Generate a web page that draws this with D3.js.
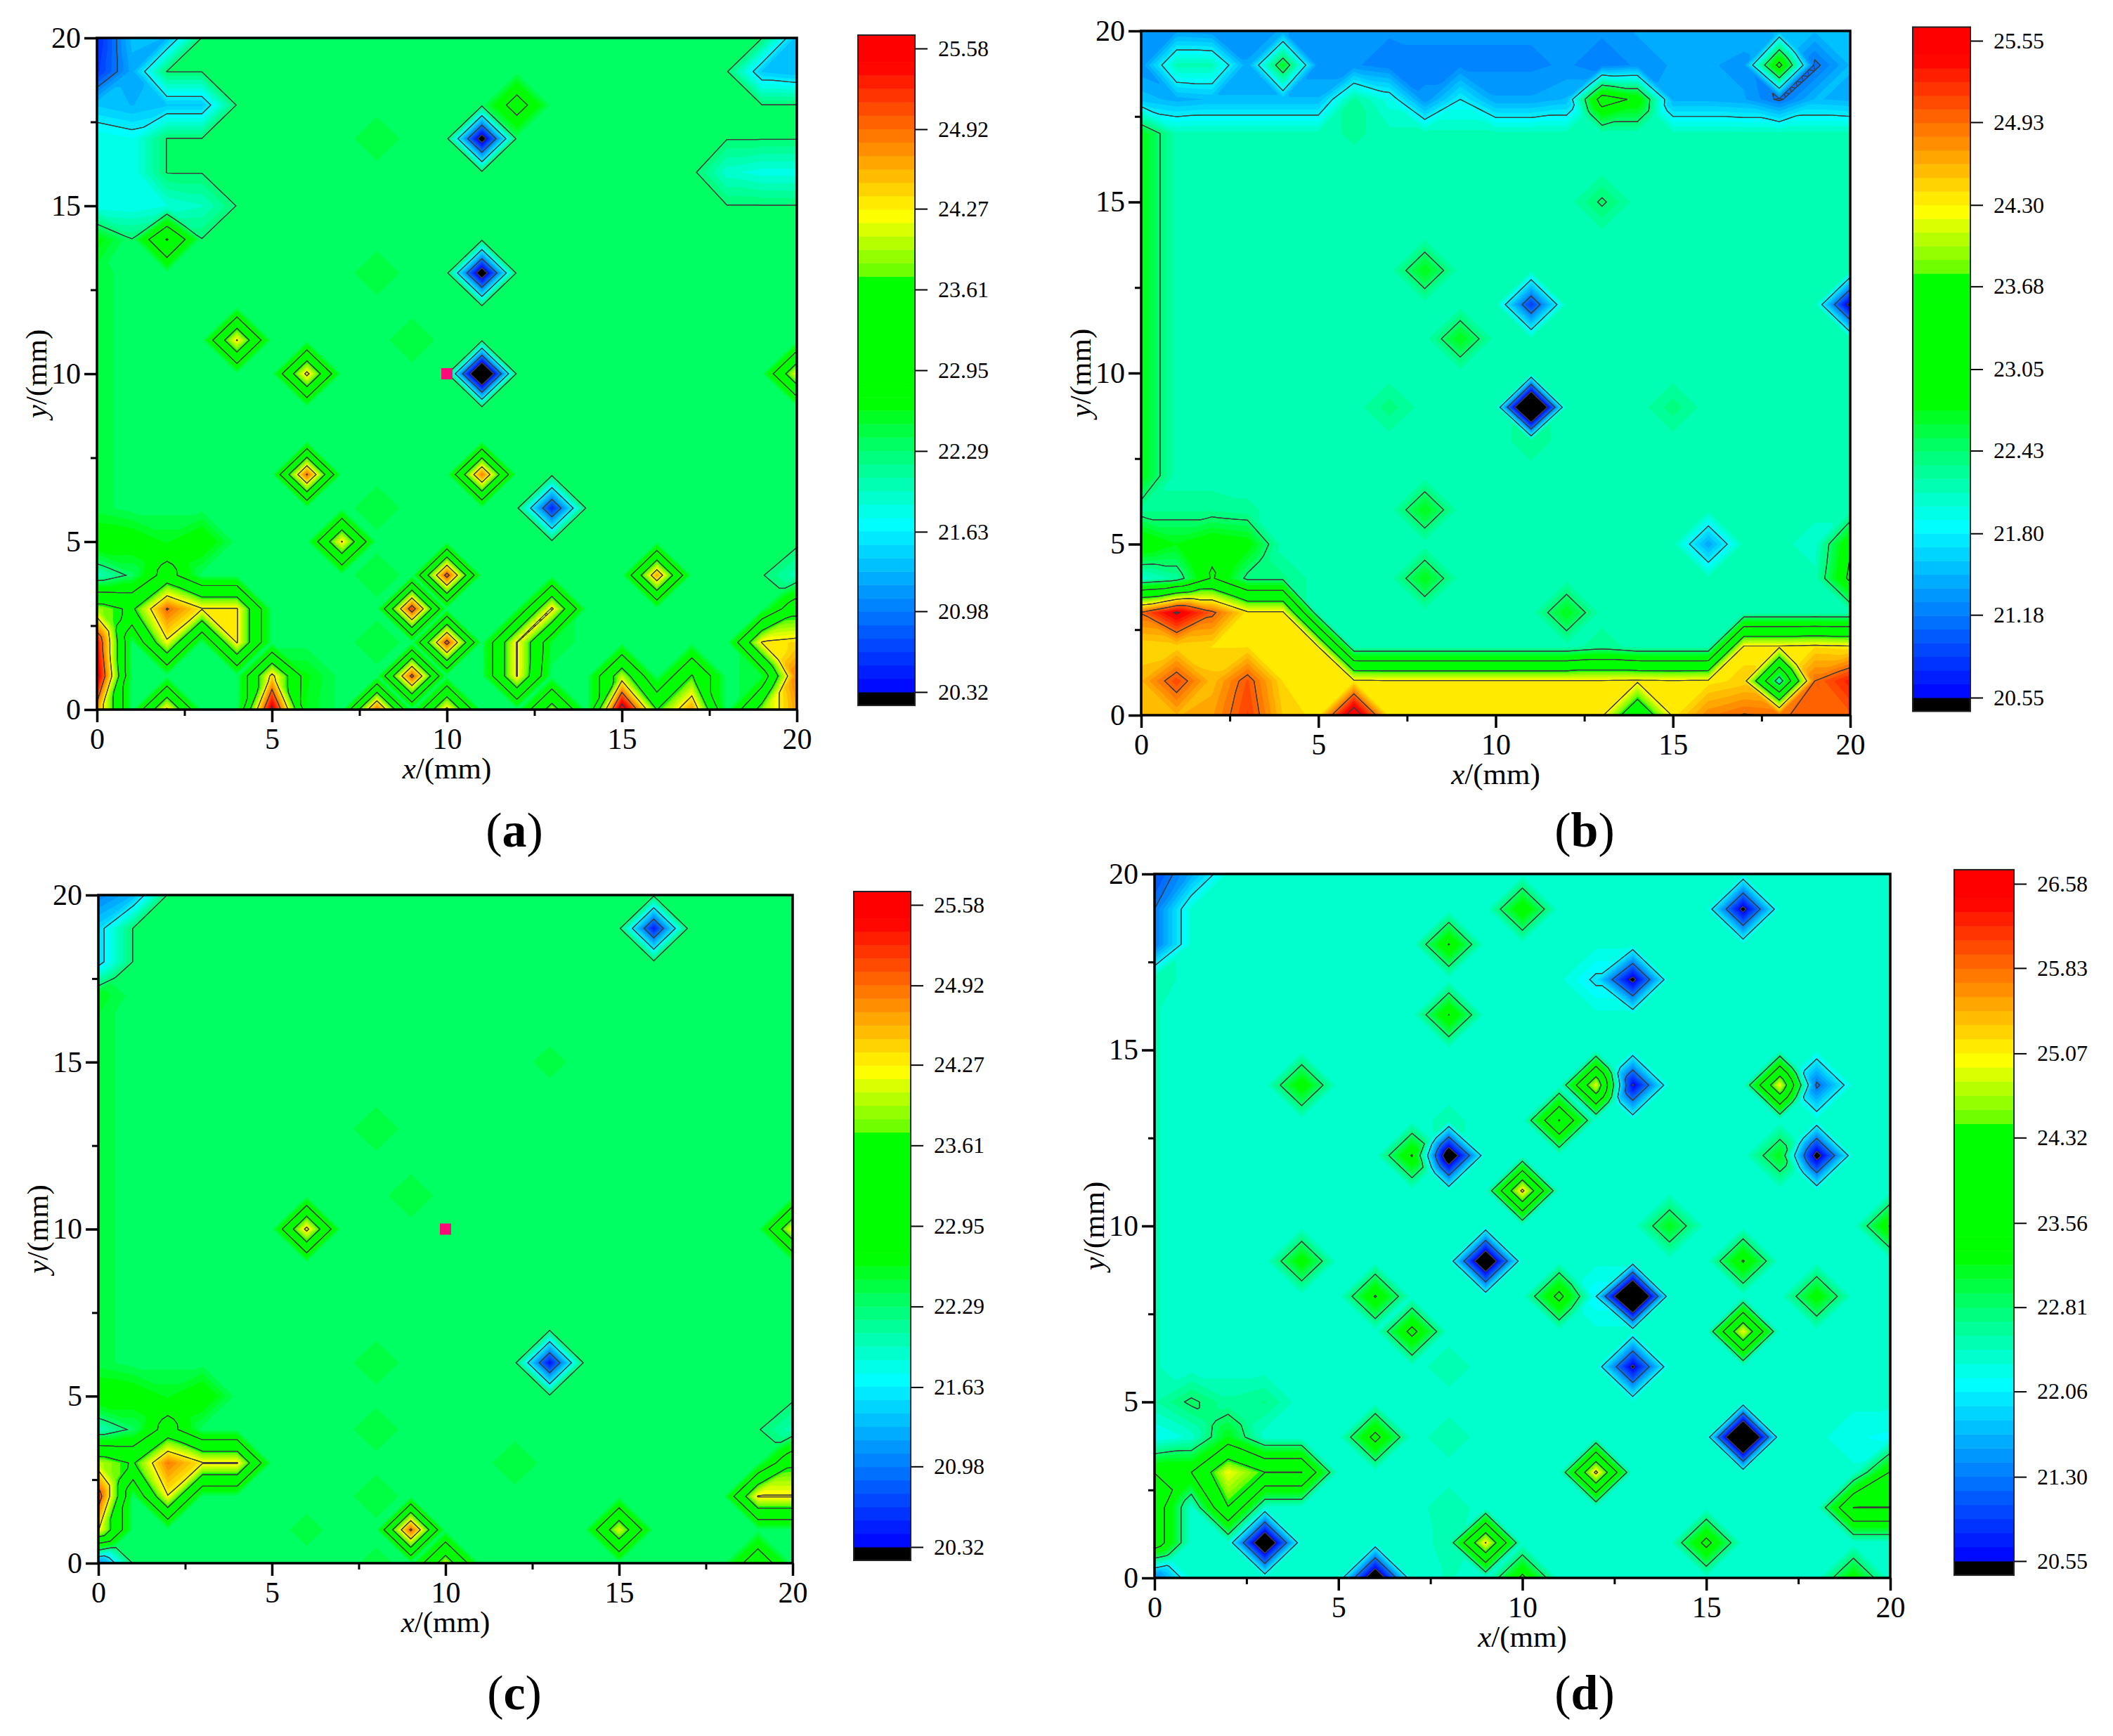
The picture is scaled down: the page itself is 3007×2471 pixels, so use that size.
<!DOCTYPE html>
<html>
<head>
<meta charset="utf-8">
<script src="https://cdnjs.cloudflare.com/ajax/libs/d3/7.8.5/d3.min.js"></script>
<style>
  html, body { margin: 0; padding: 0; background: #fff; }
  text { font-family: "Liberation Serif", serif; fill: #000; }
</style>
</head>
<body>
<svg id="visualization" width="3007" height="2471"></svg>
<script>
// contour labels on the colour bars, lowest first
const levelsA = ["20.32", "20.98", "21.63", "22.29", "22.95", "23.61", "24.27", "24.92", "25.58"];
const levelsB = ["20.55", "21.18", "21.80", "22.43", "23.05", "23.68", "24.30", "24.93", "25.55"];
const levelsC = ["20.32", "20.98", "21.63", "22.29", "22.95", "23.61", "24.27", "24.92", "25.58"];
const levelsD = ["20.55", "21.30", "22.06", "22.81", "23.56", "24.32", "25.07", "25.83", "26.58"];

// plate value away from the hot / cold spots
const plateA = 22.35;
const plateB = 22.15;
const plateC = 22.35;
const plateD = 22.35;

// measured spots as [x mm, y mm, value]
const spotsA = [
    [0, 20, 20.5], [1, 20, 21.35], [2, 20, 21.3], [3, 20, 22.3], [19, 20, 22.3], [20, 20, 21.35],
    [0, 19, 20.6], [1, 19, 21.25], [2, 19, 22.3], [3, 19, 22.3], [18, 19, 22.31], [19, 19, 21.4], [20, 19, 21.3],
    [0, 18, 21.4], [1, 18, 21.3], [2, 18, 21.4], [3, 18, 21.4], [4, 18, 22.31], [12, 18, 23.21], [19, 18, 22.3], [20, 18, 22.3],
    [0, 17, 21.85], [1, 17, 21.75], [2, 17, 22.3], [3, 17, 22.3], [8, 17, 22.5], [11, 17, 20.05], [18, 17, 22.3], [19, 17, 22.3], [20, 17, 22.3],
    [0, 16, 21.85], [1, 16, 21.75], [2, 16, 22.3], [3, 16, 22.3], [18, 16, 21.89], [19, 16, 21.8], [20, 16, 21.8],
    [0, 15, 21.8], [1, 15, 21.75], [2, 15, 21.85], [3, 15, 21.95], [4, 15, 22.3], [18, 15, 22.3], [19, 15, 22.3], [20, 15, 22.3],
    [0, 14, 22.7], [1, 14, 22.3], [2, 14, 23.65], [3, 14, 22.3],
    [0, 13, 22.45], [8, 13, 22.5], [11, 13, 19.96],
    [0, 12, 22.45],
    [0, 11, 22.45], [4, 11, 24.3], [9, 11, 22.5],
    [0, 10, 22.45], [6, 10, 24.4], [11, 10, 19.3], [20, 10, 24.2],
    [0, 9, 22.45],
    [0, 8, 22.45],
    [0, 7, 22.45], [6, 7, 24.95], [11, 7, 24.85],
    [0, 6, 22.45], [8, 6, 22.5], [13, 6, 20.5],
    [0, 5, 22.85], [1, 5, 22.8], [2, 5, 22.6], [3, 5, 22.85], [7, 5, 24.3],
    [0, 4, 22.0], [2, 4, 23.2], [8, 4, 22.5], [10, 4, 25.1], [16, 4, 24.65], [19, 4, 22.31], [20, 4, 22.0],
    [0, 3, 23.9], [1, 3, 23.5], [2, 3, 24.95], [3, 3, 24.3], [4, 3, 24.3], [9, 3, 25.2], [12, 3, 22.4], [13, 3, 24.35], [20, 3, 23.4],
    [0, 2, 25.4], [2, 2, 24.2], [4, 2, 24.3], [8, 2, 22.5], [10, 2, 25.1], [12, 2, 24.3], [13, 2, 22.5], [19, 2, 24.3], [20, 2, 24.4],
    [0, 1, 25.7], [5, 1, 24.4], [6, 1, 22.65], [9, 1, 25.05], [12, 1, 24.3], [15, 1, 24.0], [17, 1, 23.65], [19, 1, 22.5], [20, 1, 24.9],
    [0, 0, 24.7], [2, 0, 24.35], [5, 0, 25.7], [6, 0, 22.6], [8, 0, 24.95], [10, 0, 24.4], [13, 0, 23.9], [15, 0, 25.9], [16, 0, 23.6], [17, 0, 24.7], [19, 0, 23.85], [20, 0, 24.7]
];

const spotsB = [
    [0, 20, 21.3], [1, 20, 21.35], [2, 20, 21.3], [3, 20, 21.3], [4, 20, 21.4], [5, 20, 21.3], [6, 20, 21.3], [7, 20, 21.3], [8, 20, 21.3], [9, 20, 21.3], [10, 20, 21.3], [11, 20, 21.3], [12, 20, 21.3], [13, 20, 21.3], [14, 20, 21.4], [15, 20, 21.45], [16, 20, 21.45], [17, 20, 21.45], [18, 20, 21.5], [19, 20, 21.5], [20, 20, 21.5],
    [0, 19, 21.3], [1, 19, 22.16], [2, 19, 22.16], [3, 19, 21.4], [4, 19, 22.7], [5, 19, 21.3], [6, 19, 21.3], [7, 19, 21.2], [8, 19, 21.25], [9, 19, 21.25], [10, 19, 21.25], [11, 19, 21.25], [12, 19, 21.3], [13, 19, 21.2], [14, 19, 21.3], [15, 19, 21.4], [16, 19, 21.4], [17, 19, 21.34], [18, 19, 23.2], [19, 19, 21.12], [20, 19, 21.5],
    [0, 18, 21.55], [1, 18, 21.44], [2, 18, 21.5], [3, 18, 21.5], [4, 18, 21.5], [5, 18, 21.5], [6, 18, 22.25], [7, 18, 21.95], [8, 18, 21.3], [9, 18, 21.8], [10, 18, 21.4], [11, 18, 21.4], [12, 18, 21.5], [13, 18, 23.3], [14, 18, 22.95], [15, 18, 21.45], [16, 18, 21.45], [17, 18, 21.4], [18, 18, 21.14], [19, 18, 21.5], [20, 18, 21.45],
    [0, 17, 22.75], [6, 17, 22.25],
    [0, 16, 22.75],
    [0, 15, 22.75], [13, 15, 22.47],
    [0, 14, 22.75],
    [0, 13, 22.75], [8, 13, 22.75],
    [0, 12, 22.75], [11, 12, 20.85], [20, 12, 20.4],
    [0, 11, 22.75], [9, 11, 22.75],
    [0, 10, 22.75],
    [0, 9, 22.75], [7, 9, 22.38], [11, 9, 19.2], [15, 9, 22.38],
    [0, 8, 22.75], [11, 8, 22.3],
    [0, 7, 22.75],
    [0, 6, 22.3], [1, 6, 22.3], [2, 6, 22.3], [3, 6, 22.25], [8, 6, 22.75],
    [0, 5, 23.0], [1, 5, 22.75], [2, 5, 22.95], [3, 5, 22.85], [16, 5, 21.4], [19, 5, 22.05], [20, 5, 23.0],
    [0, 4, 22.05], [1, 4, 22.25], [2, 4, 23.1], [3, 4, 22.35], [4, 4, 22.35], [8, 4, 22.75], [20, 4, 23.15],
    [0, 3, 24.95], [1, 3, 25.6], [2, 3, 25.0], [3, 3, 24.35], [4, 3, 24.35], [12, 3, 22.75],
    [0, 2, 24.4], [1, 2, 24.45], [2, 2, 24.4], [3, 2, 24.4], [4, 2, 24.35], [5, 2, 24.3], [13, 2, 22.3], [17, 2, 24.35], [18, 2, 24.35], [19, 2, 24.4], [20, 2, 24.35],
    [0, 1, 24.6], [1, 1, 25.1], [2, 1, 24.55], [3, 1, 25.05], [4, 1, 24.4], [5, 1, 24.35], [6, 1, 24.35], [7, 1, 24.33], [8, 1, 24.33], [9, 1, 24.33], [10, 1, 24.33], [11, 1, 24.33], [12, 1, 24.33], [13, 1, 24.33], [14, 1, 24.35], [15, 1, 24.33], [16, 1, 24.35], [17, 1, 24.45], [18, 1, 22.15], [19, 1, 24.93], [20, 1, 25.3],
    [0, 0, 24.5], [1, 0, 24.6], [2, 0, 24.7], [3, 0, 25.15], [4, 0, 24.5], [5, 0, 24.35], [6, 0, 25.9], [7, 0, 24.35], [8, 0, 24.35], [9, 0, 24.35], [10, 0, 24.35], [11, 0, 24.35], [12, 0, 24.35], [13, 0, 24.35], [14, 0, 23.1], [15, 0, 24.35], [16, 0, 24.8], [17, 0, 24.95], [18, 0, 24.9], [19, 0, 25.0], [20, 0, 25.0]
];

const spotsC = [
    [0, 20, 21.0], [1, 20, 21.3], [2, 20, 22.31],
    [0, 19, 21.5], [1, 19, 22.3], [16, 19, 20.45],
    [0, 18, 21.5], [1, 18, 22.3],
    [0, 17, 22.6],
    [0, 16, 22.45],
    [0, 15, 22.45], [13, 15, 22.45],
    [0, 14, 22.45],
    [0, 13, 22.45], [8, 13, 22.5],
    [0, 12, 22.45],
    [0, 11, 22.45], [9, 11, 22.5],
    [0, 10, 22.45], [6, 10, 24.4], [20, 10, 24.2],
    [0, 9, 22.45],
    [0, 8, 22.45],
    [0, 7, 22.45],
    [0, 6, 22.45], [8, 6, 22.5], [13, 6, 20.4],
    [0, 5, 22.85], [1, 5, 22.8], [2, 5, 22.6], [3, 5, 22.85],
    [0, 4, 22.0], [2, 4, 23.2], [8, 4, 22.5], [19, 4, 22.31], [20, 4, 22.0],
    [0, 3, 24.0], [1, 3, 23.55], [2, 3, 24.85], [3, 3, 24.3], [4, 3, 24.3], [12, 3, 22.5], [20, 3, 23.5],
    [0, 2, 25.2], [2, 2, 24.25], [8, 2, 22.5], [19, 2, 24.3], [20, 2, 24.3],
    [0, 1, 24.3], [6, 1, 22.45], [9, 1, 25.0], [15, 1, 24.1],
    [0, 0, 21.0], [1, 0, 22.31], [8, 0, 22.45], [10, 0, 24.0], [19, 0, 23.4]
];

const spotsD = [
    [0, 20, 21.0], [1, 20, 21.6],
    [0, 19, 21.3], [10, 19, 23.5], [16, 19, 20.4],
    [0, 18, 21.3], [8, 18, 23.58],
    [0, 17, 22.55], [12, 17, 22.0], [13, 17, 20.4],
    [0, 16, 22.45], [8, 16, 23.57],
    [0, 15, 22.45],
    [0, 14, 22.45], [4, 14, 23.45], [12, 14, 24.95], [13, 14, 20.5], [17, 14, 25.0], [18, 14, 21.2],
    [0, 13, 22.45], [8, 13, 22.5], [11, 13, 24.35],
    [0, 12, 22.45], [7, 12, 23.6], [8, 12, 19.95], [17, 12, 23.2], [18, 12, 20.3],
    [0, 11, 22.45], [10, 11, 25.2],
    [0, 10, 22.45], [14, 10, 23.2], [20, 10, 23.6],
    [0, 9, 22.45], [4, 9, 23.4], [9, 9, 19.8], [16, 9, 23.6],
    [0, 8, 22.45], [6, 8, 23.6], [11, 8, 23.75], [12, 8, 22.07], [13, 8, 19.0], [18, 8, 23.4],
    [0, 7, 22.45], [7, 7, 23.75], [16, 7, 25.0],
    [0, 6, 22.45], [8, 6, 22.55], [13, 6, 20.45],
    [0, 5, 22.55], [1, 5, 22.87], [2, 5, 22.6], [3, 5, 22.7],
    [0, 4, 22.15], [2, 4, 23.2], [6, 4, 23.75], [8, 4, 22.55], [16, 4, 19.0], [19, 4, 22.2], [20, 4, 22.15],
    [0, 3, 23.55], [1, 3, 23.56], [2, 3, 25.0], [3, 3, 24.33], [4, 3, 24.33], [12, 3, 25.2], [20, 3, 23.6],
    [0, 2, 24.0], [2, 2, 24.3], [8, 2, 22.55], [19, 2, 24.33], [20, 2, 24.33],
    [0, 1, 24.0], [3, 1, 19.8], [8, 1, 22.5], [9, 1, 25.1], [15, 1, 23.75],
    [0, 0, 21.3], [6, 0, 19.9], [8, 0, 22.45], [10, 0, 23.7], [19, 0, 23.4]
];

// little pink marker in (a) and (c)
const markerA = [[10, 10]];
const markerC = [[10, 10]];

const axisMajor = [0, 5, 10, 15, 20];
const axisMinor = [2.5, 7.5, 12.5, 17.5];

// frame positions are in page pixels
const panels = [
    { letter: "a", levels: levelsA, plate: plateA, spots: spotsA, marker: markerA,
      left: 138, right: 1134, top: 54, bottom: 1010, barLeft: 1221, barRight: 1302, barTop: 69, barBottom: 985, capX: 732, capY: 1205 },
    { letter: "b", levels: levelsB, plate: plateB, spots: spotsB, marker: [],
      left: 1624, right: 2633, top: 44, bottom: 1018, barLeft: 2722, barRight: 2804, barTop: 58, barBottom: 993, capX: 2255, capY: 1205 },
    { letter: "c", levels: levelsC, plate: plateC, spots: spotsC, marker: markerC,
      left: 140, right: 1128, top: 1274, bottom: 2225, barLeft: 1215, barRight: 1296, barTop: 1288, barBottom: 2202, capX: 732, capY: 2433 },
    { letter: "d", levels: levelsD, plate: plateD, spots: spotsD, marker: [],
      left: 1643, right: 2690, top: 1244, bottom: 2246, barLeft: 2781, barRight: 2866, barTop: 1258, barBottom: 2222, capX: 2255, capY: 2433 }
];

// rainbow of the colour bars, position 0 = lowest label, 1 = highest label
const rampStops = [0, 0.262, 0.385, 0.45, 0.648, 0.649, 0.741, 0.975, 1];
const rampColors = ["#0000ff", "#00ffff", "#00ff64", "#00ff00", "#00ff00", "#64ff00", "#ffff00", "#ff0000", "#ff0000"];
const ramp = d3.scaleLinear().domain(rampStops).range(rampColors).interpolate(d3.interpolateRgb);

const bandsPerLabel = 6;
const cells = 20;
// the surface is piecewise flat on triangles, sampled finer for d3.contours (keep this even)
const refine = 6;
const sampleSize = cells * refine + 1;

const svg = d3.select("#visualization");
svg.append("rect").attr("width", 3007).attr("height", 2471).attr("fill", "#fff");

// value at the middle of a cell: closely matching diagonal ends win (ridges, valleys), else the median
const cellCentre = (a, b, c, d) => {
    const ac = Math.abs(a - c);
    const bd = Math.abs(b - d);
    if (Math.min(ac, bd) < 0.2) return ac <= bd ? (a + c) / 2 : (b + d) / 2;
    const s = [a, b, c, d].sort(d3.ascending);
    return (s[1] + s[2]) / 2;
};

// each cell is four triangles meeting at its centre
const surfaceAt = (grid, u, v) => {
    const i = Math.min(Math.floor(u), cells - 1);
    const j = Math.min(Math.floor(v), cells - 1);
    const fx = u - i;
    const fy = v - j;
    const row = cells + 1;
    const a = grid[j * row + i];
    const b = grid[j * row + i + 1];
    const c = grid[(j + 1) * row + i + 1];
    const d = grid[(j + 1) * row + i];
    const o = cellCentre(a, b, c, d);
    if (fy <= fx && fy <= 1 - fx) return a * (1 - fx - fy) + b * (fx - fy) + o * 2 * fy;
    if (fx >= fy) return b * (fx - fy) + c * (fy + fx - 1) + o * 2 * (1 - fx);
    if (fy >= 1 - fx) return c * (fx + fy - 1) + d * (fy - fx) + o * 2 * (1 - fy);
    return d * (fy - fx) + a * (1 - fx - fy) + o * 2 * fx;
};

const renderPanel = panel => {
    const levels = panel.levels.map(Number);
    const low = levels[0];
    const high = levels[levels.length - 1];
    const bandCount = (levels.length - 1) * bandsPerLabel;
    const bandStep = (high - low) / bandCount;
    const bands = d3.range(bandCount + 1).map(k => low + k * bandStep);
    const bandColor = k => ramp(Math.min(1, (k + 0.5) / bandCount));

    const grid = new Array((cells + 1) * (cells + 1)).fill(panel.plate);
    panel.spots.forEach(([x, y, v]) => { grid[y * (cells + 1) + x] = v; });

    const samples = [];
    d3.range(sampleSize).forEach(r => {
        d3.range(sampleSize).forEach(q => samples.push(surfaceAt(grid, q / refine, r / refine)));
    });

    const xScale = d3.scaleLinear().domain([0, 20]).range([panel.left, panel.right]);
    const yScale = d3.scaleLinear().domain([0, 20]).range([panel.bottom, panel.top]);

    // d3.contours puts sample i at i + 0.5
    const path = d3.geoPath(d3.geoTransform({
        point(x, y) { this.stream.point(xScale((x - 0.5) / refine), yScale((y - 0.5) / refine)); }
    }));

    const g = svg.append("g");
    g.append("clipPath").attr("id", `clip-${panel.letter}`)
        .append("rect")
        .attr("x", panel.left).attr("y", panel.top)
        .attr("width", panel.right - panel.left).attr("height", panel.bottom - panel.top);

    const plot = g.append("g").attr("clip-path", `url(#clip-${panel.letter})`);

    // below the lowest label is black
    plot.append("rect")
        .attr("x", panel.left).attr("y", panel.top)
        .attr("width", panel.right - panel.left).attr("height", panel.bottom - panel.top)
        .attr("fill", "#000");

    const contourer = d3.contours().size([sampleSize, sampleSize]).smooth(true);

    plot.selectAll("path.band")
        .data(contourer.thresholds(bands)(samples))
        .join("path")
        .attr("class", "band")
        .attr("d", path)
        .attr("fill", (d, i) => bandColor(i));

    // d3.contours breaks thin ridges into dots, the negated surface keeps them whole
    const levelShapes = contourer.thresholds(levels)(samples)
        .concat(contourer.thresholds(levels.map(d => -d))(samples.map(d => -d)));

    plot.selectAll("path.level")
        .data(levelShapes)
        .join("path")
        .attr("class", "level")
        .attr("d", path)
        .attr("fill", "none")
        .attr("stroke", "#3c3c3c")
        .attr("stroke-width", 1.2);

    plot.selectAll("rect.marker")
        .data(panel.marker)
        .join("rect")
        .attr("class", "marker")
        .attr("x", d => xScale(d[0]) - 8)
        .attr("y", d => yScale(d[1]) - 8)
        .attr("width", 16)
        .attr("height", 16)
        .attr("fill", "#ff0a78");

    // frame and ticks
    g.append("rect")
        .attr("x", panel.left).attr("y", panel.top)
        .attr("width", panel.right - panel.left).attr("height", panel.bottom - panel.top)
        .attr("fill", "none").attr("stroke", "#000").attr("stroke-width", 3.5);

    const styleAxis = (sel, width) => {
        sel.select(".domain").remove();
        sel.selectAll(".tick line").attr("stroke", "#000").attr("stroke-width", width);
    };

    g.append("g").attr("transform", `translate(0,${panel.bottom})`)
        .call(d3.axisBottom(xScale).tickValues(axisMajor).tickFormat(d3.format("d")).tickSize(18).tickPadding(8))
        .call(styleAxis, 3.5)
        .selectAll("text").attr("font-size", 42).attr("font-family", '"Liberation Serif", serif');
    g.append("g").attr("transform", `translate(0,${panel.bottom})`)
        .call(d3.axisBottom(xScale).tickValues(axisMinor).tickFormat("").tickSize(9))
        .call(styleAxis, 3);
    g.append("g").attr("transform", `translate(${panel.left},0)`)
        .call(d3.axisLeft(yScale).tickValues(axisMajor).tickFormat(d3.format("d")).tickSize(18).tickPadding(5))
        .call(styleAxis, 3.5)
        .selectAll("text").attr("font-size", 42).attr("font-family", '"Liberation Serif", serif');
    g.append("g").attr("transform", `translate(${panel.left},0)`)
        .call(d3.axisLeft(yScale).tickValues(axisMinor).tickFormat("").tickSize(9))
        .call(styleAxis, 3);

    // axis titles
    const xTitle = g.append("text")
        .attr("x", (panel.left + panel.right) / 2)
        .attr("y", panel.bottom + 98)
        .attr("text-anchor", "middle")
        .attr("font-size", 43);
    xTitle.append("tspan").attr("font-style", "italic").text("x");
    xTitle.append("tspan").text("/(mm)");

    const yTitle = g.append("text")
        .attr("transform", `translate(${panel.left - 72},${(panel.top + panel.bottom) / 2}) rotate(-90)`)
        .attr("text-anchor", "middle")
        .attr("font-size", 43);
    yTitle.append("tspan").attr("font-style", "italic").text("y");
    yTitle.append("tspan").text("/(mm)");

    // colour bar, one band beyond the labels at each end
    const barScale = d3.scaleLinear().domain([low, high]).range([panel.barBottom, panel.barTop]);
    const bar = g.append("g");
    bar.selectAll("rect")
        .data(d3.range(-1, bandCount + 1))
        .join("rect")
        .attr("x", panel.barLeft)
        .attr("width", panel.barRight - panel.barLeft)
        .attr("y", k => barScale(low + (k + 1) * bandStep))
        .attr("height", barScale(low) - barScale(low + bandStep) + 0.5)
        .attr("fill", k => k < 0 ? "#000" : bandColor(k));
    bar.append("rect")
        .attr("x", panel.barLeft).attr("width", panel.barRight - panel.barLeft)
        .attr("y", barScale(low + (bandCount + 1) * bandStep))
        .attr("height", barScale(low - bandStep) - barScale(low + (bandCount + 1) * bandStep))
        .attr("fill", "none").attr("stroke", "#222").attr("stroke-width", 2);

    g.append("g").attr("transform", `translate(${panel.barRight},0)`)
        .call(d3.axisRight(barScale).tickValues(levels).tickFormat((d, i) => panel.levels[i]).tickSize(18).tickPadding(15))
        .call(styleAxis, 2)
        .selectAll("text").attr("font-size", 32).attr("font-family", '"Liberation Serif", serif');

    // panel letter
    const cap = g.append("text")
        .attr("x", panel.capX).attr("y", panel.capY)
        .attr("text-anchor", "middle")
        .attr("font-size", 70);
    cap.append("tspan").text("(");
    cap.append("tspan").attr("font-weight", "bold").text(panel.letter);
    cap.append("tspan").text(")");
};

panels.forEach(renderPanel);
</script>
</body>
</html>
